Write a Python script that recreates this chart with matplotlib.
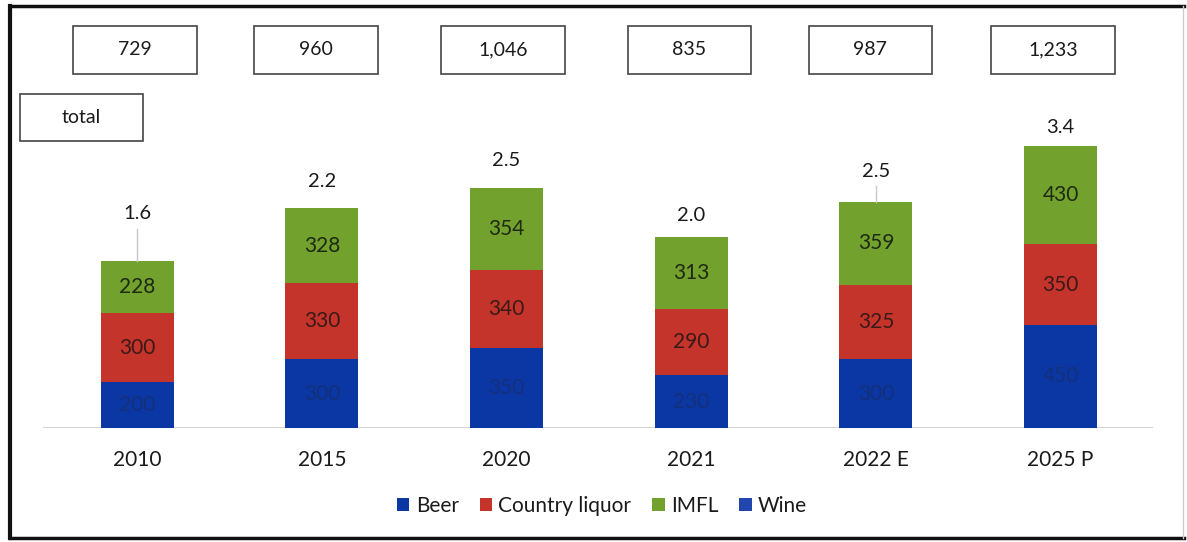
import matplotlib.pyplot as plt
from matplotlib.patches import Rectangle
from matplotlib.lines import Line2D
import numpy as np

plt.rcParams['font.family'] = ['Lato', 'DejaVu Sans']

# Volumes by segment (million cases) and market size
years = ['2010', '2015', '2020', '2021', '2022 E', '2025 P']
beer = [200, 300, 350, 230, 300, 450]
country_liquor = [300, 330, 340, 290, 325, 350]
imfl = [228, 328, 354, 313, 359, 430]
wine = [0, 0, 0, 0, 0, 0]
totals = ['729', '960', '1,046', '835', '987', '1,233']
value_labels = ['1.6', '2.2', '2.5', '2.0', '2.5', '3.4']

# label placement above each bar (data units) and which ones get a leader line
label_gap = [205, 115, 120, 95, 135, 80]
leader = [True, False, False, False, True, False]
# small horizontal nudge of the top boxes relative to the bars
box_shift = [-0.01, -0.03, -0.02, -0.01, -0.03, -0.04]

c_beer = '#0a37a3'
c_country = '#c4342b'
c_imfl = '#73a12e'
c_wine = '#2146ad'

W, H = 1187, 542
fig = plt.figure(figsize=(W / 100, H / 100), dpi=100)
fig.patch.set_facecolor('white')

base_px = 428
ax = fig.add_axes([43 / W, (H - base_px) / H, (1153 - 43) / W, (base_px - 5) / H])
ax.set_xlim(-0.51, 5.50)
ax.set_ylim(0, 1843)

x = np.arange(len(years))
bw = 0.395
beer_a = np.array(beer)
cl_a = np.array(country_liquor)
im_a = np.array(imfl)
wi_a = np.array(wine)

b1 = ax.bar(x, beer_a, bw, color=c_beer, label='Beer')
b2 = ax.bar(x, cl_a, bw, bottom=beer_a, color=c_country, label='Country liquor')
b3 = ax.bar(x, im_a, bw, bottom=beer_a + cl_a, color=c_imfl, label='IMFL')
b4 = ax.bar(x, wi_a, bw, bottom=beer_a + cl_a + im_a, color=c_wine, label='Wine')

for i in range(len(years)):
    ax.text(x[i], beer_a[i] / 2, str(beer[i]), ha='center', va='center',
            fontsize=15, color='#15307a')
    ax.text(x[i], beer_a[i] + cl_a[i] / 2, str(country_liquor[i]), ha='center',
            va='center', fontsize=15, color='#3a1a18')
    ax.text(x[i], beer_a[i] + cl_a[i] + im_a[i] / 2, str(imfl[i]), ha='center',
            va='center', fontsize=15, color='#1d2a12')

    top = beer_a[i] + cl_a[i] + im_a[i] + wi_a[i]
    ax.text(x[i], top + label_gap[i], value_labels[i], ha='center', va='center',
            fontsize=14.5, color='#1a1a1a')
    if leader[i]:
        ax.plot([x[i], x[i]], [top, top + label_gap[i] - 65], color='#c8c8c8', lw=1)

    # market size boxes along the top
    bx = x[i] + box_shift[i]
    ax.add_patch(Rectangle((bx - 0.335, 1542), 0.67, 210, fill=False,
                           edgecolor='#444444', lw=1.2, clip_on=False))
    ax.text(bx, 1647, totals[i], ha='center', va='center', fontsize=14,
            color='#1a1a1a')

ax.add_patch(Rectangle((-0.637, 1250), 0.67, 205, fill=False,
                       edgecolor='#444444', lw=1.2, clip_on=False))
ax.text(-0.302, 1352, 'total', ha='center', va='center', fontsize=14,
        color='#1a1a1a')

ax.axhline(0, color='#d4d4d4', lw=1.5, zorder=0)
for s in ax.spines.values():
    s.set_visible(False)
ax.set_yticks([])
ax.set_xticks(x)
ax.set_xticklabels(years, fontsize=15, color='#1a1a1a')
ax.tick_params(axis='x', length=0, pad=16)

fig.legend(handles=[b1, b2, b3, b4], loc='center', ncol=4,
           bbox_to_anchor=(602 / W, 1 - 506 / H), frameon=False, fontsize=15,
           handlelength=0.6, handleheight=0.6, handletextpad=0.3,
           columnspacing=1.0, labelcolor='#1a1a1a')

# outer frame
fig.add_artist(Line2D([10 / W, 10 / W], [1 - 6 / H, 1 - 538 / H], color='#111111', lw=3))
fig.add_artist(Line2D([10 / W, 1184 / W], [1 - 6 / H, 1 - 6 / H], color='#111111', lw=2.5))
fig.add_artist(Line2D([10 / W, 1184 / W], [1 - 538 / H, 1 - 538 / H], color='#111111', lw=2.5))
fig.add_artist(Line2D([1183 / W, 1183 / W], [1 - 6 / H, 1 - 538 / H], color='#cccccc', lw=1))

fig.savefig('out.png', dpi=100, facecolor='white')
